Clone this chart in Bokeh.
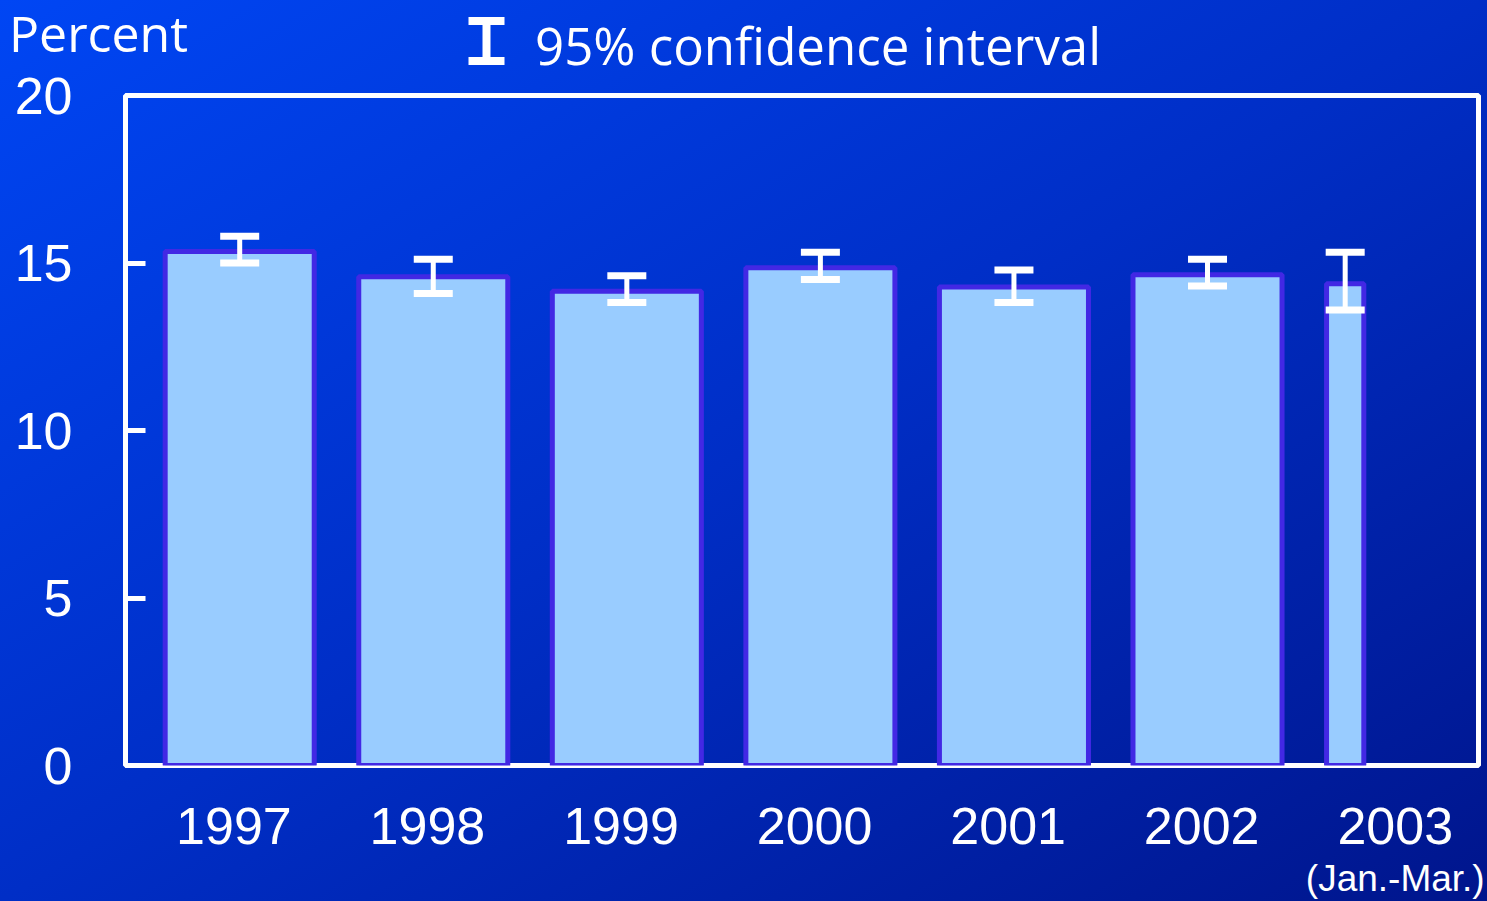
from bokeh.plotting import figure
from bokeh.core.properties import value
from bokeh.models import (Range1d, FixedTicker, Whisker, TeeHead, ColumnDataSource,
                          LinearAxis, GlobalInlineStyleSheet)
from bokeh.embed import file_html
from bokeh.resources import INLINE

# ---------------- data ----------------
years = ["1997", "1998", "1999", "2000", "2001", "2002", "2003"]
percent = [15.34, 14.59, 14.16, 14.86, 14.28, 14.65, 14.38]
ci_low = [15.00, 14.09, 13.82, 14.51, 13.82, 14.31, 13.60]
ci_high = [15.80, 15.11, 14.62, 15.32, 14.79, 15.11, 15.32]
year_fraction = [1, 1, 1, 1, 1, 1, 0.25]   # 2003 covers Jan.-Mar. only
y_ticks = [0, 5, 10, 15, 20]
y_label = "Percent"
legend_text = "95% confidence interval"
partial_note = "(Jan.-Mar.)"

# ---------------- styles ----------------
BAR_W = 0.77
BAR_FILL = "#99CCFF"
BAR_LINE = "#4228E4"
WHITE = "white"
NUM_FONT = "Liberation Sans"
TXT_FONT = "Open Sans"
PAGE_CSS = ("html,body{margin:0;padding:0;overflow:hidden;width:1487px;height:901px;}"
            "body{display:flex;flex-direction:column;"
            "background:linear-gradient(to bottom right,#0046F4 0%,#002EC6 50%,#00158C 100%);}")
TOP_H = 90          # header strip height
MAIN_Y0 = 55        # where the chart canvas starts (it overlaps the header strip)
FRAME_TOP = 95
FRAME_H = 670
X_RANGE = (-0.59, 6.40)
LABEL_SHIFT = 0.03


def clear(fig):
    fig.background_fill_color = None
    fig.border_fill_color = None


# ---------------- header strip (axis title + legend) ----------------
top = figure(width=1487, height=TOP_H, x_range=Range1d(0, 1487), y_range=Range1d(TOP_H, 0),
             output_backend="svg", toolbar_location=None, x_axis_location=None,
             y_axis_location=None, min_border=0)
clear(top)
top.outline_line_color = None
top.grid.visible = False
top.stylesheets = [GlobalInlineStyleSheet(css=PAGE_CSS)]
top.text(x=[8.5], y=[32], text=[y_label], text_font=value(TXT_FONT), text_font_size="50px",
         text_color=WHITE, text_align="left", text_baseline="middle")
top.text(x=[534.5], y=[44.5], text=[legend_text], text_font=value(TXT_FONT), text_font_size="51px",
         text_color=WHITE, text_align="left", text_baseline="middle")
# legend key: an error-bar symbol
top.segment(x0=[486], y0=[20], x1=[486], y1=[61], line_color=WHITE, line_width=8)
top.segment(x0=[468, 468], y0=[20.5, 60.5], x1=[504, 504], y1=[20.5, 60.5],
            line_color=WHITE, line_width=8)

# ---------------- main chart ----------------
idx = list(range(len(years)))
left = [i - BAR_W / 2 for i in idx]
right = [l + BAR_W * f for l, f in zip(left, year_fraction)]
mid = [(l + r) / 2 for l, r in zip(left, right)]

src = ColumnDataSource(dict(left=left, right=right, top=percent, bottom=[0] * len(years),
                            mid=mid, lo=ci_low, hi=ci_high))

p = figure(width=1487, height=901 - MAIN_Y0, x_range=Range1d(*X_RANGE), y_range=Range1d(0, 20),
           output_backend="svg", toolbar_location=None, x_axis_location=None,
           min_border_left=125, min_border_right=9, min_border_top=FRAME_TOP - MAIN_Y0,
           min_border_bottom=901 - FRAME_TOP - FRAME_H)
clear(p)
p.styles = {"margin-top": f"{MAIN_Y0 - TOP_H}px"}
p.extra_x_ranges = {"labels": Range1d(X_RANGE[0] + LABEL_SHIFT, X_RANGE[1] + LABEL_SHIFT)}
p.outline_line_color = WHITE
p.outline_line_width = 5
p.grid.visible = False

p.quad(left="left", right="right", bottom="bottom", top="top", source=src,
       fill_color=BAR_FILL, line_color=BAR_LINE, line_width=5)

whisk = Whisker(base="mid", lower="lo", upper="hi", source=src, dimension="height",
                line_color=WHITE, line_width=5, level="overlay",
                upper_head=TeeHead(size=39, line_width=7, line_color=WHITE),
                lower_head=TeeHead(size=39, line_width=7, line_color=WHITE))
p.add_layout(whisk)

# y axis
p.yaxis.ticker = FixedTicker(ticks=y_ticks)
p.yaxis.axis_line_color = None
p.yaxis.major_tick_in = 20
p.yaxis.major_tick_out = 0
p.yaxis.major_tick_line_color = WHITE
p.yaxis.major_tick_line_width = 5
p.yaxis.minor_tick_line_color = None
p.yaxis.major_label_text_color = WHITE
p.yaxis.major_label_text_font = NUM_FONT
p.yaxis.major_label_text_font_size = "52px"
p.yaxis.major_label_standoff = 53


def label_axis(labels, ticks, size, standoff):
    ax = LinearAxis(x_range_name="labels", ticker=FixedTicker(ticks=ticks),
                    major_label_overrides=dict(zip(ticks, labels)))
    ax.axis_line_color = None
    ax.major_tick_line_color = None
    ax.minor_tick_line_color = None
    ax.major_label_text_color = WHITE
    ax.major_label_text_font = NUM_FONT
    ax.major_label_text_font_size = size
    ax.major_label_standoff = standoff
    return ax


p.add_layout(label_axis(years, idx, "52px", 36), "below")
p.add_layout(label_axis([partial_note], [idx[-1]], "37px", 5), "below")

open("out.html", "w").write(file_html([top, p], INLINE))
